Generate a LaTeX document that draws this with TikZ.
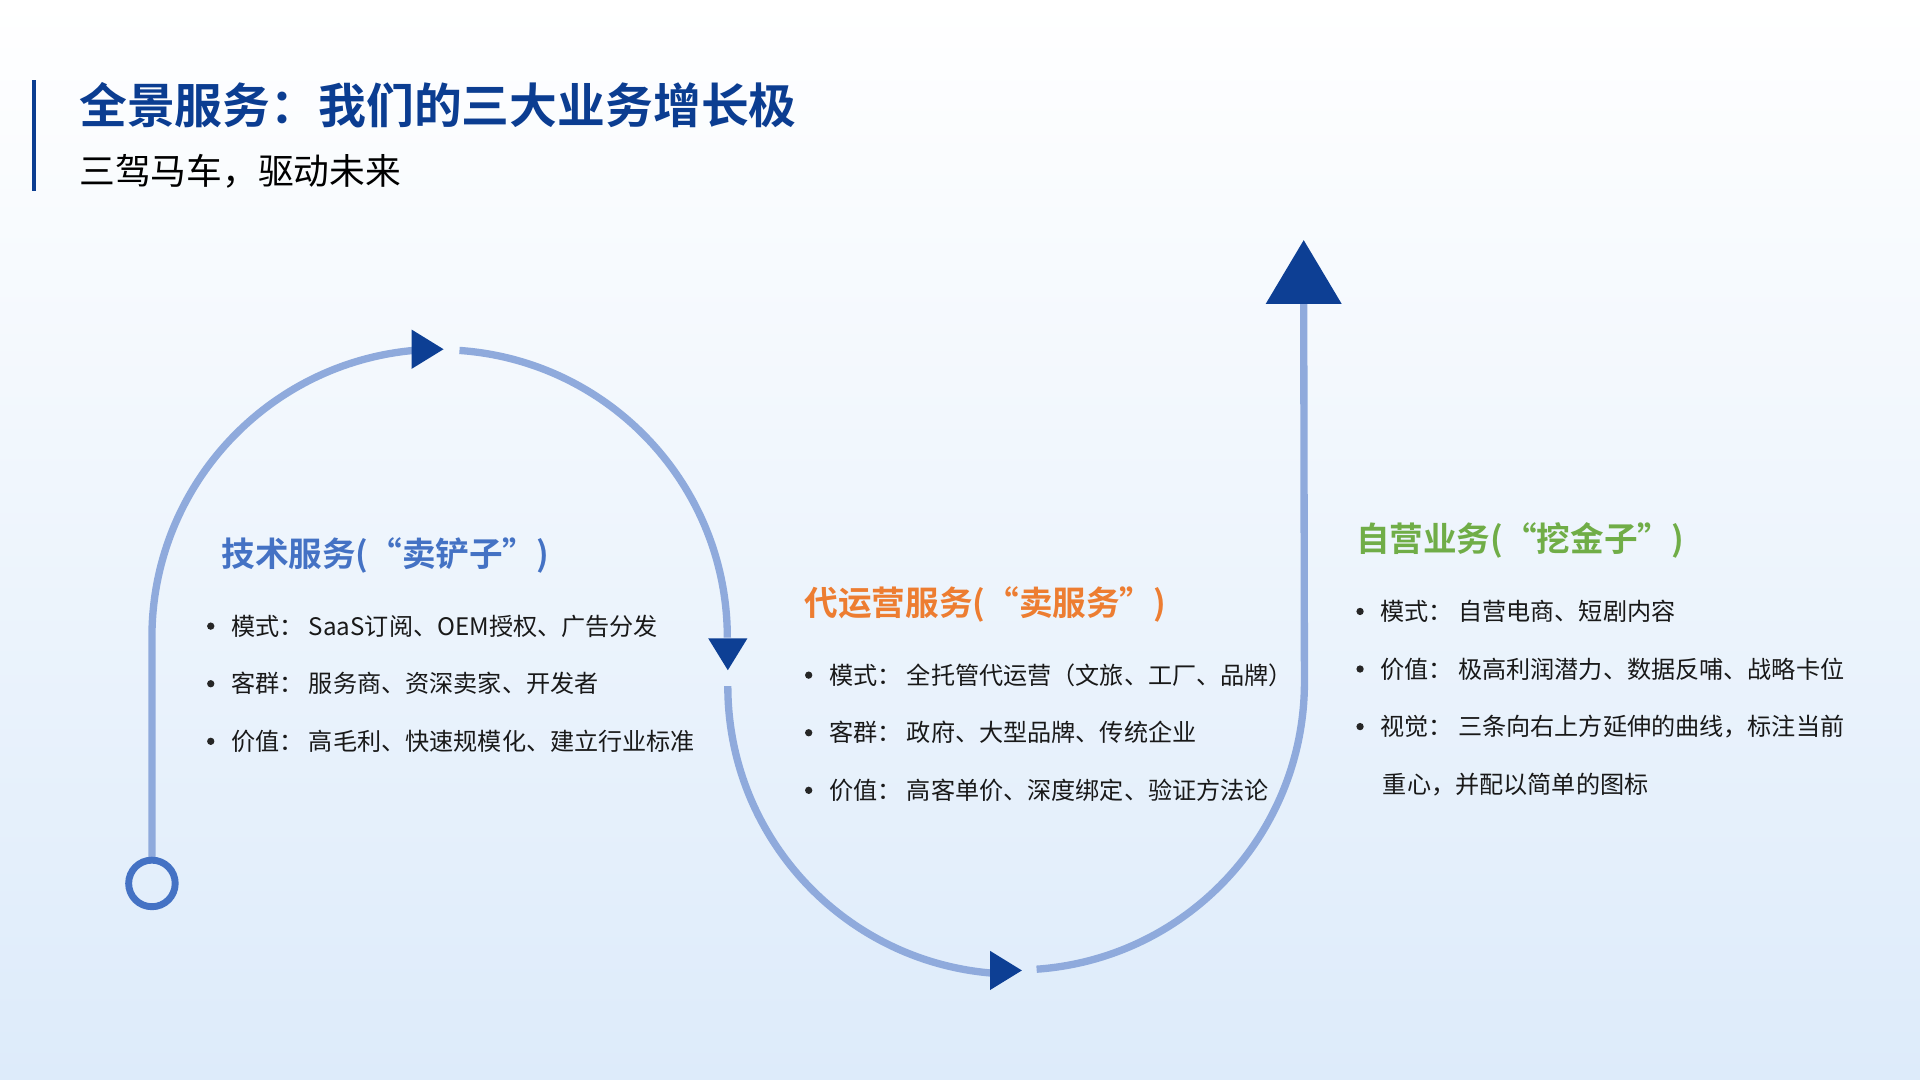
\documentclass[tikz,border=0pt]{standalone}
\usepackage{fontspec}
\setmainfont{Noto Sans CJK SC}
\newfontfamily\cjkbold{Noto Sans CJK SC Bold}
\usetikzlibrary{positioning}
\definecolor{titleblue}{HTML}{0B3D91}
\definecolor{pathblue}{HTML}{8FAADC}
\definecolor{tipblue}{HTML}{0D3F94}
\definecolor{ringblue}{HTML}{4472C4}
\definecolor{techblue}{HTML}{4472C4}
\definecolor{opsorange}{HTML}{ED7D31}
\definecolor{owngreen}{HTML}{70AD47}
\definecolor{bgblue}{HTML}{DDEBFA}
\tikzset{
  track/.style={draw=pathblue, line width=1.7pt},
  tip/.style={fill=tipblue},
  head/.style={anchor=west, inner sep=0pt, font=\cjkbold\fontsize{7.8}{9}\selectfont},
  item/.style={anchor=west, inner sep=0pt, font=\fontsize{5.6}{7}\selectfont, text=black!90},
  dot/.style={circle, fill=black!85, inner sep=0pt, minimum size=1.7pt}
}
\begin{document}
\begin{tikzpicture}[x=0.01cm, y=-0.01cm]
\useasboundingbox (0,0) rectangle (1567,881);
\shade[shading=axis, shading angle=120, top color=white, bottom color=bgblue] (0,0) rectangle (1567,881);
% title
\fill[titleblue] (26,65) rectangle (29,156);
\node[anchor=west, inner sep=0pt, font=\cjkbold\fontsize{11.1}{13}\selectfont, text=titleblue] (title) at (64,86) {全景服务：我们的三大业务增长极};
\node[anchor=west, inner sep=0pt, font=\fontsize{8.3}{10}\selectfont] (subtitle) at (64,140) {三驾马车，驱动未来};
% track
\draw[track] (124,700) -- (124,520) arc[start angle=180, end angle=266, radius=235];
\draw[track] (375,286) arc[start angle=274, end angle=360, radius=235];
\draw[track] (594,560) arc[start angle=180, end angle=94, radius=235];
\draw[track] (846,791) arc[start angle=86, end angle=0, radius=235] -- (1064,245);
\draw[draw=ringblue, line width=1.6pt] (124,721) circle[radius=19];
\fill[tip] (336,269) -- (362,285) -- (336,301) -- cycle;
\fill[tip] (578,521) -- (610,521) -- (594,547) -- cycle;
\fill[tip] (808,776) -- (834,792) -- (808,808) -- cycle;
\fill[tip] (1033,248) -- (1095,248) -- (1064,196) -- cycle;
% technical services
\node[head, text=techblue] (techhead) at (180,453) {技术服务(“卖铲子”)};
\foreach \y/\t in {511/{模式：\ SaaS订阅、OEM授权、广告分发},558/{客群：\ 服务商、资深卖家、开发者},605/{价值：\ 高毛利、快速规模化、建立行业标准}}{
  \node[dot] at (172,\y) {};
  \node[item] at (188,\y) {\t};
}
% operations
\node[head, text=opsorange] (opshead) at (656,493) {代运营服务(“卖服务”)};
\foreach \y/\t in {551/{模式：\ 全托管代运营（文旅、工厂、品牌）},598/{客群：\ 政府、大型品牌、传统企业},645/{价值：\ 高客单价、深度绑定、验证方法论}}{
  \node[dot] at (660,\y) {};
  \node[item] at (676,\y) {\t};
}
% own business
\node[head, text=owngreen] (ownhead) at (1106,441) {自营业务(“挖金子”)};
\foreach \y/\t in {499/{模式：\ 自营电商、短剧内容},546/{价值：\ 极高利润潜力、数据反哺、战略卡位},593/{视觉：\ 三条向右上方延伸的曲线，标注当前}}{
  \node[dot] at (1110,\y) {};
  \node[item] at (1126,\y) {\t};
}
\node[item] at (1128,640) {重心，并配以简单的图标};
\end{tikzpicture}
\end{document}
